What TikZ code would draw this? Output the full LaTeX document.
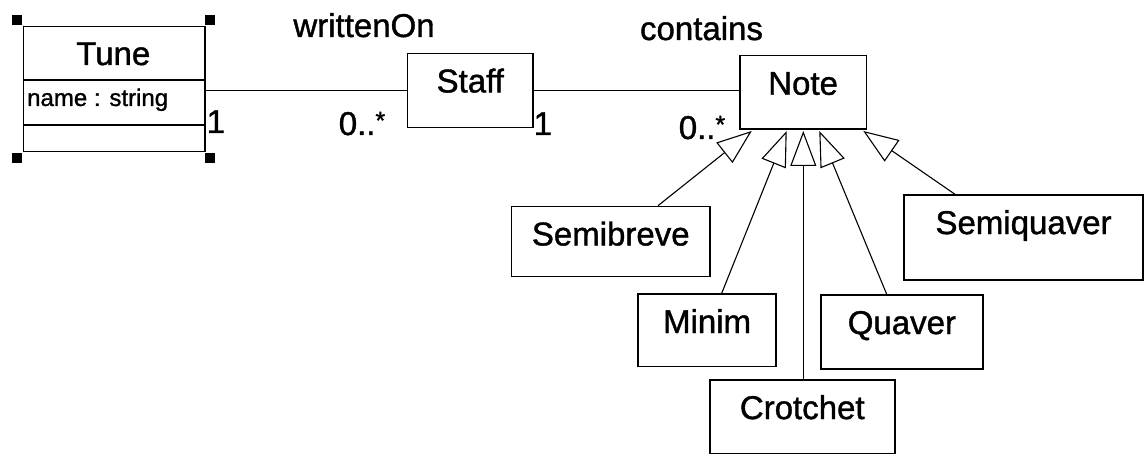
\documentclass[tikz,border=0pt]{standalone}
\usepackage{fontspec}
\setmainfont{Liberation Sans}[FakeBold=1.2]
\usetikzlibrary{arrows.meta,calc}
\newcommand\umlfont{\fontsize{33}{40}\selectfont}
\newcommand\attrfont{\fontsize{24}{29}\selectfont}
\newcommand\manystar{\raisebox{6pt}{\fontsize{25}{25}\selectfont *}}
\begin{document}
\begin{tikzpicture}[x=1pt,y=-1pt,
  cls/.style={draw, line width=1.5pt, inner sep=0pt, anchor=north west,
              text height=39pt, font=\umlfont, align=center},
  handle/.style={fill=black, inner sep=0pt, minimum size=10pt},
  assoc/.style={line width=1.4pt},
  gen/.style={line width=1.1pt,
              -{Triangle[open, length=35pt, width=26pt]}},
  txt/.style={font=\umlfont, inner sep=0pt},
]
\useasboundingbox (0,0) rectangle (1144,454);

% class Tune with attribute and operation compartments
\node[draw, line width=1.5pt, inner sep=0pt, anchor=north west,
      minimum width=181.3pt, minimum height=125pt] (tune) at (22.7,26) {};
\draw[line width=1.5pt] (tune.north west) ++(0,54) -- ++(181.3,0);
\draw[line width=1.5pt] (tune.north west) ++(0,99) -- ++(181.3,0);
\node[txt, anchor=base] (tunename) at (113.3,65) {Tune};
\node[font=\attrfont, inner sep=0pt, anchor=base west] (tuneattr) at (27,106) {name : string};

% selection handles
\node[handle] (h1) at (16.7,20) {};
\node[handle] (h2) at (210,20) {};
\node[handle] (h3) at (16.7,158) {};
\node[handle] (h4) at (210,158) {};

% classes
\node[cls, minimum width=125.6pt, text depth=35pt] (staff) at (406.7,52.7) {Staff};
\node[cls, minimum width=126.7pt, text depth=34.5pt] (note) at (739,55) {Note};
\node[cls, minimum width=198.6pt, text depth=31.3pt] (semibreve) at (510.7,205.7) {Semibreve};
\node[cls, minimum width=138pt, text depth=33.7pt] (minim) at (637.3,293.3) {Minim};
\node[cls, minimum width=185pt, text depth=34.4pt] (crotchet) at (709,379.3) {Crotchet};
\node[cls, minimum width=162.3pt, text depth=35pt] (quaver) at (820,294.3) {Quaver};
\node[cls, minimum width=239pt, text depth=46pt] (semiquaver) at (903.3,194.3) {Semiquaver};

% associations
\draw[assoc] (tune.east |- staff.west) -- (staff.west);
\draw[assoc] (staff.east) -- (note.west |- staff.east);

\node[txt, anchor=base] (wo) at (364,37) {writtenOn};
\node[txt, anchor=base] (ct) at (701.5,40) {contains};
\node[txt, anchor=base west] (m1) at (206.5,133) {1};
\node[txt, anchor=base west] (m2) at (338.6,135) {0..\manystar};
\node[txt, anchor=base west] (m3) at (533.5,135) {1};
\node[txt, anchor=base west] (m4) at (678.6,139) {0..\manystar};

% generalisation tips on the bottom of Note
\coordinate (t1) at ($(note.south west)+(12.7,1)$);
\coordinate (t2) at ($(note.south west)+(47.7,1)$);
\coordinate (t3) at ($(note.south west)+(64.3,1)$);
\coordinate (t4) at ($(note.south west)+(80.3,1)$);
\coordinate (t5) at ($(note.south west)+(124.3,1)$);

% attachment points on the subclasses
\coordinate (s1) at ($(semibreve.north west)+(147.3,0)$);
\coordinate (s2) at ($(minim.north west)+(84.4,0)$);
\coordinate (s3) at (crotchet.north -| t3);
\coordinate (s4) at ($(quaver.north west)+(66.7,0)$);
\coordinate (s5) at ($(semiquaver.north west)+(51.7,0)$);

\draw[gen] (s1) -- (t1);
\draw[gen] (s2) -- (t2);
\draw[gen] (s3) -- (t3);
\draw[gen] (s4) -- (t4);
\draw[gen] (s5) -- (t5);
\end{tikzpicture}
\end{document}
